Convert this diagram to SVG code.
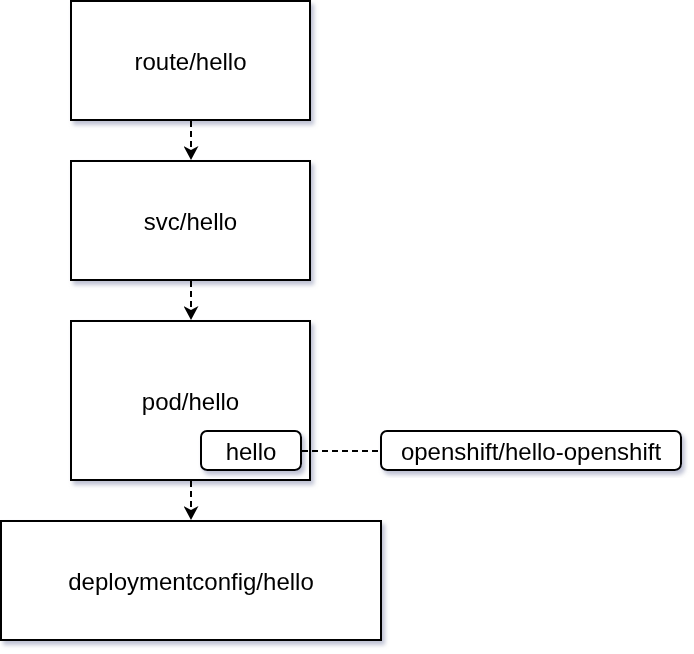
<svg xmlns="http://www.w3.org/2000/svg" width="694" height="654" viewBox="0 0 694 654">
<style>
.box{fill:#fff;stroke:#000;stroke-width:2}
.lbl{font-family:"Liberation Sans",Arial,sans-serif;font-size:24px;fill:#000;text-anchor:middle;dominant-baseline:central}
.conn{fill:none;stroke:#000;stroke-width:2;stroke-dasharray:6,4}
</style>
<defs>
<filter id="sh" x="-10%" y="-10%" width="130%" height="130%">
<feGaussianBlur in="SourceAlpha" stdDeviation="2"/>
<feOffset dx="3" dy="4" result="b"/>
<feFlood flood-color="#8a90b0" flood-opacity="0.55"/>
<feComposite in2="b" operator="in"/>
<feMerge><feMergeNode/><feMergeNode in="SourceGraphic"/></feMerge>
</filter>
<marker id="arr" viewBox="0 0 14 15" refX="14" refY="7.5" markerWidth="14" markerHeight="15" markerUnits="userSpaceOnUse" orient="auto">
<path d="M0,0 L14,7.5 L0,15 L4,7.5 Z" fill="#000"/>
</marker>
</defs>
<g id="route" filter="url(#sh)">
<rect class="box" x="71" y="1" width="239" height="119"/>
<text class="lbl" x="190.5" y="61">route/hello</text>
</g>
<g id="svc" filter="url(#sh)">
<rect class="box" x="71" y="161" width="239" height="119"/>
<text class="lbl" x="190.5" y="221">svc/hello</text>
</g>
<g id="pod" filter="url(#sh)">
<rect class="box" x="71" y="321" width="239" height="159"/>
<text class="lbl" x="190.5" y="401">pod/hello</text>
</g>
<g id="container" filter="url(#sh)">
<rect class="box" x="201" y="431" width="100" height="39" rx="6"/>
<text class="lbl" x="251" y="451">hello</text>
</g>
<g id="image" filter="url(#sh)">
<rect class="box" x="381" y="431" width="300" height="39" rx="6"/>
<text class="lbl" x="531" y="451">openshift/hello-openshift</text>
</g>
<g id="dc" filter="url(#sh)">
<rect class="box" x="1" y="521" width="380" height="119"/>
<text class="lbl" x="191" y="581">deploymentconfig/hello</text>
</g>
<g id="connectors">
<line class="conn" x1="191" y1="121" x2="191" y2="160" marker-end="url(#arr)"/>
<line class="conn" x1="191" y1="281" x2="191" y2="320" marker-end="url(#arr)"/>
<line class="conn" x1="191" y1="481" x2="191" y2="520" marker-end="url(#arr)"/>
<line class="conn" x1="302" y1="451" x2="380" y2="451"/>
</g>
</svg>
